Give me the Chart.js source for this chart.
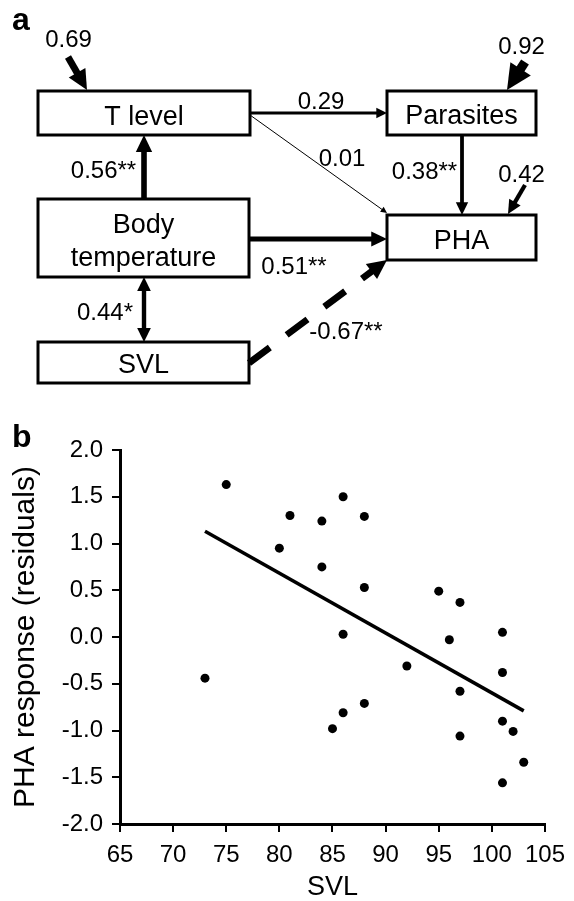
<!DOCTYPE html>
<html>
<head>
<meta charset="utf-8">
<title>Path model and PHA response vs SVL</title>
<script src="https://cdn.jsdelivr.net/npm/chart.js@4.4.0/dist/chart.umd.min.js"></script>
<style>
  html, body { margin: 0; padding: 0; background: #fff; }
  #wrap { position: relative; width: 574px; height: 901px; }
  canvas { display: block; }
</style>
</head>
<body>
<div id="wrap">
  <canvas id="pathModel" width="574" height="400"></canvas>
  <canvas id="scatter" width="574" height="501"></canvas>
</div>
<script>
// ---- panel a: path model ----
const nodeNames = ['T level', 'Parasites', 'Body temperature', 'SVL', 'PHA'];
const nodeLines = [['T level'], ['Parasites'], ['Body', 'temperature'], ['SVL'], ['PHA']];

const pathFrom = ['T level', 'T level', 'Parasites', 'Body temperature', 'Body temperature', 'Body temperature', 'SVL'];
const pathTo   = ['Parasites', 'PHA', 'PHA', 'T level', 'PHA', 'SVL', 'PHA'];
const pathCoef = [0.29, 0.01, 0.38, 0.56, 0.51, 0.44, -0.67];
const pathSig  = ['', '', '**', '**', '**', '*', '**'];
const pathKind = ['direct', 'direct', 'direct', 'direct', 'direct', 'correlation', 'direct'];

const residualNodes = ['T level', 'Parasites', 'PHA'];
const residualCoef  = [0.69, 0.92, 0.42];

// ---- panel b: PHA response residuals against SVL ----
const svl = [73, 75, 80, 81, 84, 84, 85, 86, 86, 86, 88, 88, 88, 92, 95, 96, 97, 97, 97, 101, 101, 101, 101, 102, 103];
const pha = [-0.44, 1.63, 0.95, 1.30, 1.24, 0.75, -0.98, 1.50, 0.03, -0.81, 1.29, 0.53, -0.71, -0.31, 0.49, -0.03, 0.37, -0.58, -1.06, 0.05, -0.38, -0.90, -1.56, -1.01, -1.34];
const fitSvl = [73, 103];
const fitPha = [1.13, -0.79];
const xTicks = [65, 70, 75, 80, 85, 90, 95, 100, 105];
const yTicks = [-2.0, -1.5, -1.0, -0.5, 0.0, 0.5, 1.0, 1.5, 2.0];

const FONT = '"Liberation Sans", Arial, Helvetica, sans-serif';
Chart.defaults.font.family = FONT;
Chart.defaults.color = '#000';

// diagram layout, in the units of the hidden scales of the first chart
const boxRects = [[38, 91, 250, 135], [387, 91, 536, 135], [38, 199, 249, 277], [38, 342, 249, 383], [387, 215, 536, 260]];
const boxBaselines = [[125], [124], [233, 266], [373], [249]];
const pathEnds = [
  [250, 113, 387, 113],
  [250, 115, 387, 213],
  [462, 135, 462, 215],
  [144, 199, 144, 135],
  [249, 239, 387, 239],
  [144, 277, 144, 342],
  [249, 363, 387, 260]
];
const pathLabelAt = [[321, 100], [342, 157], [424.5, 170], [103.5, 169], [294, 265], [105, 311], [346, 330]];
const residualEnds = [[68, 57, 87, 90], [525, 62, 507, 90], [525, 185, 508, 214]];
const residualLabelAt = [[68.5, 38], [521.5, 45], [521.5, 173]];

function arrowHead(ctx, x, y, ux, uy, hl, hw) {
  const bx = x - ux * hl, by = y - uy * hl;
  ctx.beginPath();
  ctx.moveTo(x, y);
  ctx.lineTo(bx - uy * hw, by + ux * hw);
  ctx.lineTo(bx + uy * hw, by - ux * hw);
  ctx.closePath();
  ctx.fill();
}

function arrow(ctx, x1, y1, x2, y2, w, opts) {
  const dx = x2 - x1, dy = y2 - y1, len = Math.hypot(dx, dy);
  const ux = dx / len, uy = dy / len;
  const hl = 4 + 2.3 * w, hw = 2 + 1.1 * w;
  const s = opts.double ? hl * 0.8 : 0;
  ctx.save();
  ctx.strokeStyle = '#000';
  ctx.fillStyle = '#000';
  ctx.lineWidth = w;
  ctx.lineCap = 'butt';
  if (opts.dash) ctx.setLineDash(opts.dash);
  ctx.beginPath();
  ctx.moveTo(x1 + ux * s, y1 + uy * s);
  ctx.lineTo(x2 - ux * hl * 0.8, y2 - uy * hl * 0.8);
  ctx.stroke();
  ctx.setLineDash([]);
  arrowHead(ctx, x2, y2, ux, uy, hl, hw);
  if (opts.double) arrowHead(ctx, x1, y1, -ux, -uy, hl, hw);
  ctx.restore();
}

const pathDiagram = {
  id: 'pathDiagram',
  afterDraw(chart) {
    const ctx = chart.ctx;
    const X = v => chart.scales.x.getPixelForValue(v);
    const Y = v => chart.scales.y.getPixelForValue(v);
    ctx.save();

    // boxes
    nodeNames.forEach((name, i) => {
      const [x1, y1, x2, y2] = boxRects[i];
      ctx.fillStyle = '#fff';
      ctx.fillRect(X(x1), Y(y1), X(x2) - X(x1), Y(y2) - Y(y1));
      ctx.lineWidth = 3;
      ctx.strokeStyle = '#000';
      ctx.strokeRect(X(x1), Y(y1), X(x2) - X(x1), Y(y2) - Y(y1));
      ctx.fillStyle = '#000';
      ctx.font = '27px ' + FONT;
      ctx.textAlign = 'center';
      ctx.textBaseline = 'alphabetic';
      nodeLines[i].forEach((line, j) => ctx.fillText(line, X((x1 + x2) / 2), Y(boxBaselines[i][j])));
    });

    // paths, width follows the size of the coefficient
    pathCoef.forEach((c, i) => {
      const [x1, y1, x2, y2] = pathEnds[i];
      const w = Math.max(1, Math.abs(c) * 10);
      arrow(ctx, X(x1), Y(y1), X(x2), Y(y2), w, {
        double: pathKind[i] === 'correlation',
        dash: c < 0 ? [26, 21] : null
      });
    });
    residualCoef.forEach((c, i) => {
      const [x1, y1, x2, y2] = residualEnds[i];
      arrow(ctx, X(x1), Y(y1), X(x2), Y(y2), c * 10, {});
    });

    // coefficient labels
    ctx.fillStyle = '#000';
    ctx.font = '24px ' + FONT;
    ctx.textAlign = 'center';
    ctx.textBaseline = 'alphabetic';
    pathCoef.forEach((c, i) => {
      const [lx, ly] = pathLabelAt[i];
      ctx.fillText(c.toFixed(2) + pathSig[i], X(lx), Y(ly) + 8.6);
    });
    residualCoef.forEach((c, i) => {
      const [lx, ly] = residualLabelAt[i];
      ctx.fillText(c.toFixed(2), X(lx), Y(ly) + 8.6);
    });

    ctx.font = 'bold 32px ' + FONT;
    ctx.textAlign = 'left';
    ctx.fillText('a', X(12), Y(30));
    ctx.restore();
  }
};

new Chart(document.getElementById('pathModel'), {
  type: 'scatter',
  data: { datasets: [] },
  options: {
    responsive: false,
    animation: false,
    events: [],
    layout: { padding: 0 },
    plugins: { legend: { display: false }, tooltip: { enabled: false } },
    scales: {
      x: { type: 'linear', min: 0, max: 574, display: false },
      y: { type: 'linear', min: 0, max: 400, reverse: true, display: false }
    }
  },
  plugins: [pathDiagram]
});

const panelLetter = {
  id: 'panelLetter',
  afterDraw(chart) {
    const ctx = chart.ctx;
    ctx.save();
    ctx.fillStyle = '#000';
    ctx.font = 'bold 32px ' + FONT;
    ctx.textBaseline = 'alphabetic';
    ctx.fillText('b', 12, 47);
    ctx.restore();
  }
};

new Chart(document.getElementById('scatter'), {
  type: 'scatter',
  data: {
    datasets: [
      {
        data: svl.map((x, i) => ({ x: x, y: pha[i] })),
        backgroundColor: '#000',
        borderWidth: 0,
        pointRadius: 4.5
      },
      {
        type: 'line',
        data: fitSvl.map((x, i) => ({ x: x, y: fitPha[i] })),
        borderColor: '#000',
        borderWidth: 3.5,
        pointRadius: 0,
        fill: false
      }
    ]
  },
  options: {
    responsive: false,
    animation: false,
    events: [],
    layout: { padding: { top: 50, right: 22, left: 0, bottom: 0 } },
    plugins: { legend: { display: false }, tooltip: { enabled: false } },
    scales: {
      x: {
        type: 'linear',
        min: 65,
        max: 105,
        afterBuildTicks: s => { s.ticks = xTicks.map(v => ({ value: v })); },
        ticks: { font: { size: 24 }, padding: 9, color: '#000', maxRotation: 0, autoSkip: false },
        grid: { drawOnChartArea: false, tickLength: 8, color: '#000', lineWidth: 2 },
        border: { color: '#000', width: 3 },
        title: { display: true, text: 'SVL', font: { size: 27, lineHeight: 1 }, padding: 0, color: '#000' },
        afterFit: s => { s.height = 77; }
      },
      y: {
        type: 'linear',
        min: -2,
        max: 2,
        afterBuildTicks: s => { s.ticks = yTicks.map(v => ({ value: v })); },
        ticks: { font: { size: 24 }, padding: 9, color: '#000', callback: v => v.toFixed(1) },
        grid: { drawOnChartArea: false, tickLength: 8, color: '#000', lineWidth: 2 },
        border: { color: '#000', width: 3 },
        title: { display: true, text: 'PHA response (residuals)', font: { size: 30 }, padding: { top: 8 }, color: '#000' },
        afterFit: s => { s.width = 120; }
      }
    }
  },
  plugins: [panelLetter]
});
</script>
</body>
</html>
